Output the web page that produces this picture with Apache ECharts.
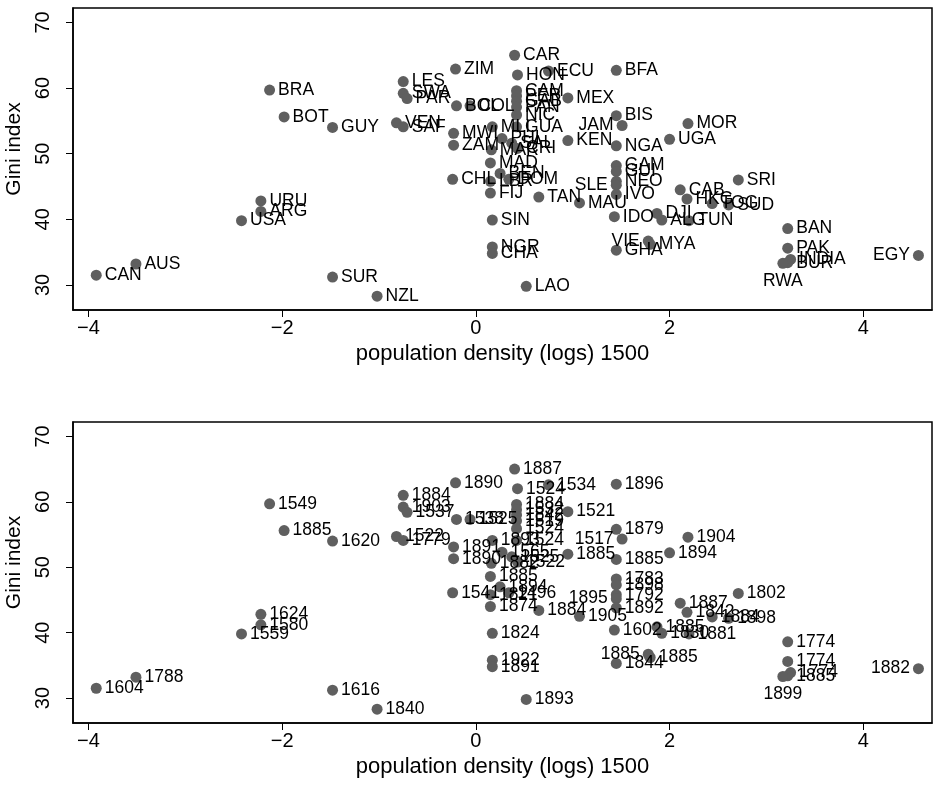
<!DOCTYPE html>
<html><head><meta charset="utf-8">
<script src="https://cdn.jsdelivr.net/npm/echarts@6/dist/echarts.min.js"></script>
<style>html,body{margin:0;padding:0;background:#fff}#c{width:937px;height:789px}</style>
</head><body><div id="c"></div>
<script>
const names = ['CAN','AUS','USA','URU','ARG','BRA','BOT','GUY','SUR','NZL','VEN','SAF','LES','SWA','PAR','ZIM','BOL','COL','MWI','ZAM','CHL','MLI','MAR','MAD','LBR','FIJ','SIN','NGR','CHA','BEN','PHI','DOM','SAL','CAR','HON','CAM','PER','GAB','PAN','NIC','GUA','CRI','LAO','TAN','ECU','KEN','MEX','MAU','BFA','BIS','JAM','NGA','GAM','GUI','NEO','SLE','IVO','IDO','GHA','VIE','MYA','DJI','ALG','UGA','CAB','MOR','HKG','TUN','TOG','SUD','SRI','BAN','PAK','INDIA','BUR','RWA','EGY'];
const popDensity = [-3.92,-3.51,-2.42,-2.22,-2.22,-2.13,-1.98,-1.48,-1.48,-1.02,-0.82,-0.75,-0.75,-0.75,-0.71,-0.21,-0.20,-0.06,-0.23,-0.23,-0.24,0.17,0.16,0.15,0.15,0.15,0.17,0.17,0.17,0.25,0.27,0.34,0.37,0.40,0.43,0.42,0.42,0.42,0.42,0.42,0.42,0.43,0.52,0.65,0.75,0.95,0.95,1.07,1.45,1.45,1.51,1.45,1.45,1.45,1.45,1.45,1.45,1.43,1.45,1.78,1.80,1.87,1.92,2.00,2.11,2.19,2.18,2.20,2.44,2.61,2.71,3.22,3.22,3.25,3.22,3.17,4.57];
const gini = [31.5,33.2,39.8,42.8,41.2,59.7,55.6,54.0,31.2,28.3,54.7,54.1,61.0,59.2,58.4,62.9,57.3,57.3,53.1,51.3,46.1,54.1,50.6,48.6,45.8,44.0,39.9,35.8,34.8,47.0,52.3,46.1,51.6,65.0,62.0,59.6,58.8,58.0,57.1,55.9,54.1,50.8,29.8,43.4,62.6,52.0,58.5,42.5,62.7,55.8,54.3,51.2,48.2,47.3,45.8,45.2,43.8,40.4,35.3,36.7,36.2,40.9,39.9,52.2,44.5,54.6,43.1,39.8,42.4,42.2,46.0,38.6,35.6,33.9,33.4,33.3,34.5];
const years = ['1604','1788','1559','1624','1580','1549','1885','1620','1616','1840','1522','1779','1884','1903','1537','1890','1538','1525','1891','1890','1541','1893','1882','1885','1821','1874','1824','1922','1891','1894','1565','1496','1525','1887','1524','1884','1532','1842','1519','1524','1524','1522','1893','1884','1534','1885','1521','1905','1896','1879','1517','1885','1783','1898','1792','1895','1892','1602','1844','1885','1885','1885','1830','1894','1887','1904','1842','1881','1884','1898','1802','1774','1774','1774','1885','1899','1882'];
const xTicks = [-4,-2,0,2,4];
const yTicks = [30,40,50,60,70];

const leftLabeled = ['JAM','EGY','SLE','VIE'];
const belowLabeled = ['RWA'];
const FONT = 'Liberation Sans, Arial, Helvetica, sans-serif';
const DOT = '#5f5f5f';

function pts(labels){
  return names.map((n,i)=>{
    const item = {value:[popDensity[i], gini[i], labels[i]]};
    if (leftLabeled.includes(n)) item.label = {position:'left'};
    if (belowLabeled.includes(n)) item.label = {position:'bottom', distance:3};
    return item;
  });
}
function xAxis(idx){
  return {gridIndex:idx, type:'value', min:-4.16, max:4.71,
    name:'population density (logs) 1500', nameLocation:'middle', nameGap:33,
    nameTextStyle:{fontFamily:FONT, fontSize:22, color:'#000'},
    axisLine:{show:true, onZero:false, lineStyle:{color:'#000', width:1.5}},
    axisTick:{show:true, length:7, customValues:xTicks, lineStyle:{color:'#000', width:1}},
    axisLabel:{margin:8, customValues:xTicks, fontFamily:FONT, fontSize:20, color:'#000',
      formatter:v=>String(v).replace('-','\u2212')},
    splitLine:{show:false}};
}
function yAxis(idx){
  return {gridIndex:idx, type:'value', min:26.19, max:72.2,
    name:'Gini index', nameLocation:'middle', nameGap:42,
    nameTextStyle:{fontFamily:FONT, fontSize:21, color:'#000', padding:[0,0,0,20]},
    axisLine:{show:true, onZero:false, lineStyle:{color:'#000', width:1.5}},
    axisTick:{show:true, length:7, customValues:yTicks, lineStyle:{color:'#000', width:1}},
    axisLabel:{margin:20, rotate:90, customValues:yTicks, fontFamily:FONT, fontSize:20, color:'#000'},
    splitLine:{show:false}};
}
function series(idx, labels){
  return {type:'scatter', xAxisIndex:idx, yAxisIndex:idx, symbol:'circle', symbolSize:11,
    itemStyle:{color:DOT, opacity:1}, data:pts(labels),
    label:{show:true, position:'right', distance:3, formatter:p=>p.value[2],
      fontFamily:FONT, fontSize:17.5, color:'#000'},
    emphasis:{disabled:true}, animation:false};
}
const chart = echarts.init(document.getElementById('c'), null, {renderer:'canvas'});
chart.setOption({
  backgroundColor:'#fff', animation:false,
  grid:[
    {left:73, top:8, width:859, height:302, outerBoundsMode:'none', containLabel:false, show:true, borderColor:'#000', borderWidth:1.5, backgroundColor:'#fff'},
    {left:73, top:422, width:859, height:301, outerBoundsMode:'none', containLabel:false, show:true, borderColor:'#000', borderWidth:1.5, backgroundColor:'#fff'}
  ],
  xAxis:[xAxis(0), xAxis(1)],
  yAxis:[yAxis(0), yAxis(1)],
  series:[series(0, names), series(1, years)]
});
</script></body></html>
